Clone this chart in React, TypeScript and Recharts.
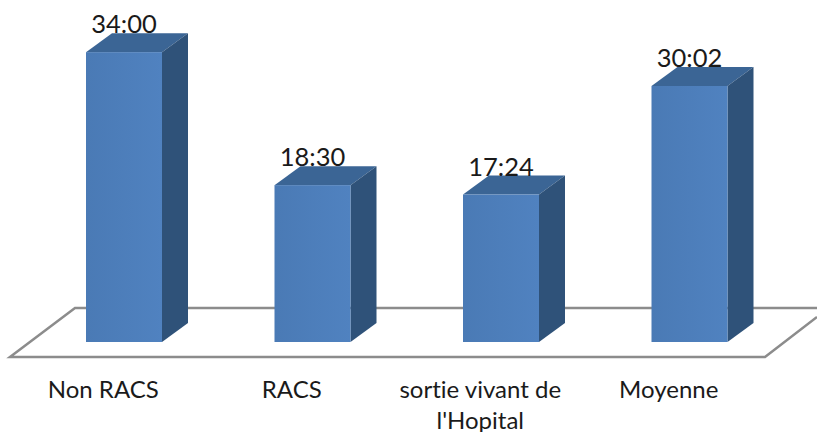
import { BarChart, Bar, XAxis, YAxis, LabelList, Customized } from "recharts"

// durations in minutes
const categories = ["Non RACS", "RACS", "sortie vivant de|l'Hopital", "Moyenne"]
const durations = [34, 18.4, 17.3, 30.03]
const durationLabels = ["34:00", "18:30", "17:24", "30:02"]

const data = categories.map((name, i) => ({ name, value: durations[i], label: durationLabels[i] }))

const FONT = "Lato, 'Open Sans', sans-serif"
const DEPTH_X = 26
const DEPTH_Y = 19

function Bar3D({ x, y, width, height }: any) {
  const right = x + width
  const bottom = y + height
  return (
    <g>
      <defs>
        <linearGradient id="frontFill" x1="0" y1="0" x2="1" y2="0">
          <stop offset="0%" stopColor="#4a7ab5" />
          <stop offset="100%" stopColor="#5082c0" />
        </linearGradient>
      </defs>
      <polygon
        points={`${x},${y} ${x + DEPTH_X},${y - DEPTH_Y} ${right + DEPTH_X},${y - DEPTH_Y} ${right},${y}`}
        fill="#3b6595"
      />
      <polygon
        points={`${right},${y} ${right + DEPTH_X},${y - DEPTH_Y} ${right + DEPTH_X},${bottom - DEPTH_Y} ${right},${bottom}`}
        fill="#2f5279"
      />
      <rect x={x} y={y} width={width} height={height} fill="url(#frontFill)" />
    </g>
  )
}

function Floor() {
  return (
    <polyline
      points="817,308 75,308 10,357 765,357 817,317"
      fill="none"
      stroke="#8c8c8c"
      strokeWidth={2.5}
    />
  )
}

function CategoryTick({ x, y, payload }: any) {
  const lines = String(payload.value).split("|")
  return (
    <text
      x={x - 21}
      y={y}
      textAnchor="middle"
      fontFamily={FONT}
      fontSize={24}
      fill="#1a1a1a"
      style={{ fontVariantLigatures: "none" }}
    >
      {lines.map((line, i) => (
        <tspan key={i} x={x - 21} y={y + 48 + i * 31}>
          {line}
        </tspan>
      ))}
    </text>
  )
}

function ValueLabel({ x, y, width, value }: any) {
  return (
    <text
      x={x + width / 2}
      y={y - 19}
      textAnchor="middle"
      fontFamily={FONT}
      fontSize={25.5}
      fill="#1a1a1a"
    >
      {value}
    </text>
  )
}

export default function App() {
  return (
    <div style={{ position: "absolute", left: 0, top: 0, width: 817, height: 432, background: "#fff" }}>
      <BarChart
        width={817}
        height={432}
        data={data}
        margin={{ top: 1, right: 33, bottom: 0, left: 30 }}
      >
        <Customized component={Floor} />
        <XAxis
          dataKey="name"
          axisLine={false}
          tickLine={false}
          height={90}
          interval={0}
          tick={<CategoryTick />}
        />
        <YAxis hide domain={[0, 40]} />
        <Bar dataKey="value" barSize={76} isAnimationActive={false} shape={<Bar3D />}>
          <LabelList dataKey="label" content={<ValueLabel />} />
        </Bar>
      </BarChart>
    </div>
  )
}
